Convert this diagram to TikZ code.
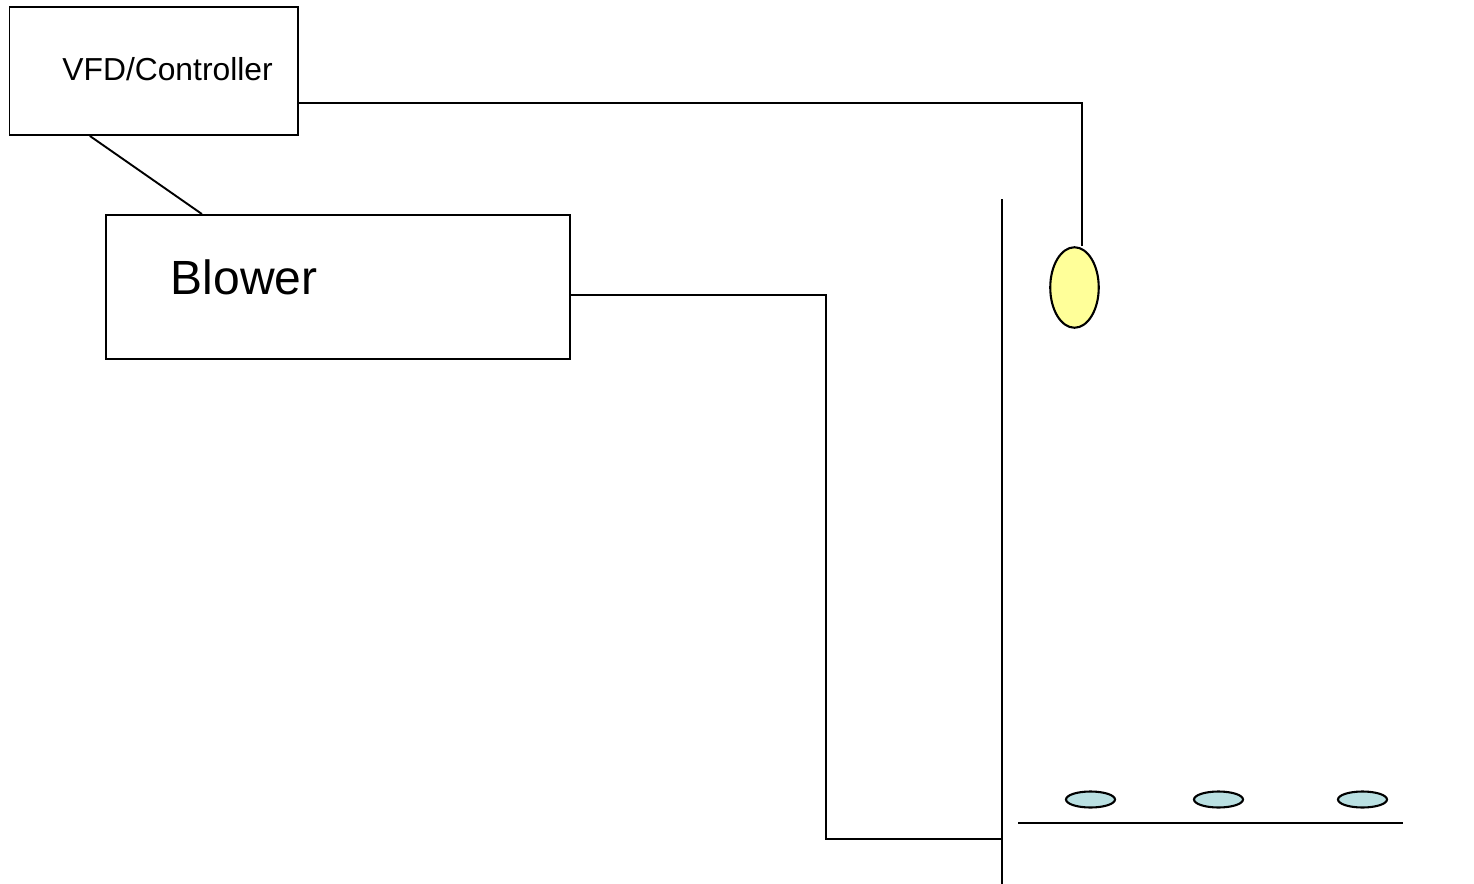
\documentclass[tikz,border=0pt]{standalone}
\usepackage{fontspec}
\setmainfont{Liberation Sans}
\usetikzlibrary{shapes.geometric,calc}
\definecolor{bulbyellow}{HTML}{FFFF99}
\definecolor{nozzleblue}{HTML}{BAE0E2}
\tikzset{
  x=0.5pt,y=-0.5pt,
  boxnode/.style={draw=black,line width=0.95pt,fill=white,inner sep=0pt},
  wire/.style={draw=black,line width=0.95pt},
  bulb/.style={draw=black,line width=1.05pt,fill=bulbyellow,ellipse,inner sep=0pt,minimum width=24.25pt,minimum height=40.25pt},
  nozzle/.style={draw=black,line width=1.05pt,fill=nozzleblue,ellipse,inner sep=0pt,minimum width=24.5pt,minimum height=8pt},
  label/.style={inner sep=0pt,anchor=base west,text=black}
}
\begin{document}
\begin{tikzpicture}
\useasboundingbox (0,0) rectangle (1474,884);
\node[boxnode,minimum width=144.25pt,minimum height=64pt] (vfd) at (153.75,71) {};
\node[boxnode,minimum width=232pt,minimum height=72pt] (blower) at (338,287) {};
\node[label,font=\fontsize{15.9pt}{18pt}\selectfont] (vfdt) at (62,80) {VFD/Controller};
\node[label,font=\fontsize{24pt}{26pt}\selectfont] (blowert) at (170.5,294) {Blower};
\node[bulb] (sensor) at (1074.5,287.5) {};
\node[nozzle] (n1) at (1090.5,799.5) {};
\node[nozzle] (n2) at (1218.5,799.5) {};
\node[nozzle] (n3) at (1362.5,799.5) {};
\coordinate (walltop) at (1002,199);
\coordinate (wallbot) at (1002,884);
\coordinate (walljoin) at (1002,839);
\coordinate (traya) at (1018,823);
\coordinate (trayb) at (1403,823);
\coordinate (cornerA) at (1082,103);
\coordinate (cornerB) at (826,295);
\coordinate (cornerC) at (826,839);
\draw[wire] ($(vfd.south west)!0.28!(vfd.south east)$) -- ($(blower.north west)!0.208!(blower.north east)$);
\draw[wire] (vfd.east |- cornerA) -- (cornerA) -- (cornerA |- sensor.north);
\draw[wire] (blower.east |- cornerB) -- (cornerB) -- (cornerC) -- (walljoin);
\draw[wire] (walltop) -- (wallbot);
\draw[wire] (traya) -- (trayb);
\end{tikzpicture}
\end{document}
